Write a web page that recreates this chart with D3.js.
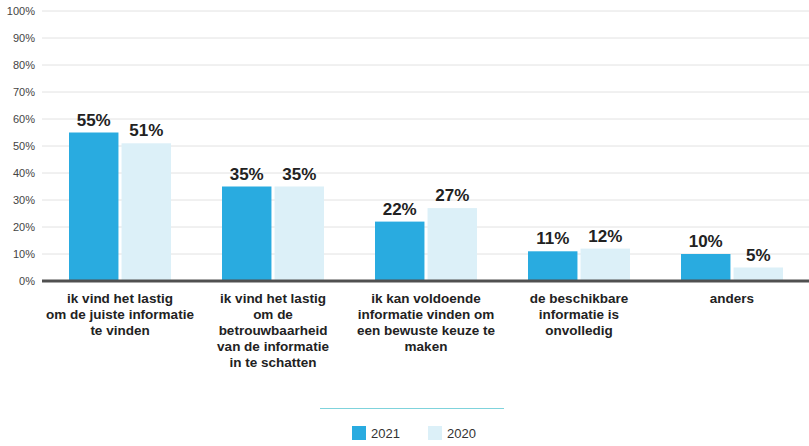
<!DOCTYPE html>
<html>
<head>
<meta charset="utf-8">
<script src="https://cdn.jsdelivr.net/npm/d3@7"></script>
<style>
  body { margin: 0; background: #fff; }
  svg { font-family: "Liberation Sans", Arial, sans-serif; }
</style>
</head>
<body>
<div id="chart"></div>
<script>
const categories = [
  ['ik vind het lastig', 'om de juiste informatie', 'te vinden'],
  ['ik vind het lastig', 'om de', 'betrouwbaarheid', 'van de informatie', 'in te schatten'],
  ['ik kan voldoende', 'informatie vinden om', 'een bewuste keuze te', 'maken'],
  ['de beschikbare', 'informatie is', 'onvolledig'],
  ['anders']
];
const seriesNames = ['2021', '2020'];
const values2021 = [55, 35, 22, 11, 10];
const values2020 = [51, 35, 27, 12, 5];
const yTicks = [0, 10, 20, 30, 40, 50, 60, 70, 80, 90, 100];

const colours = {'2021': '#29abe0', '2020': '#dcf0f8'};

const width = 809, height = 446;
const svg = d3.select('#chart').append('svg')
  .attr('width', width)
  .attr('height', height);

const x = d3.scaleBand()
  .domain(d3.range(categories.length))
  .range([43.5, 808.5]);

const inner = d3.scaleBand()
  .domain(seriesNames)
  .range([25.5, x.bandwidth() - 25.5])
  .paddingInner(6 / 102);

const y = d3.scaleLinear().domain([0, 100]).range([281, 11]);

// gridlines
svg.append('g')
  .selectAll('line')
  .data(yTicks.slice(1))
  .enter().append('line')
  .attr('x1', 42).attr('x2', width)
  .attr('y1', d => y(d)).attr('y2', d => y(d))
  .attr('stroke', '#e2e2e2')
  .attr('stroke-width', 1);

// y axis labels
svg.append('g')
  .selectAll('text')
  .data(yTicks)
  .enter().append('text')
  .attr('x', 35)
  .attr('y', d => y(d) + 4)
  .attr('text-anchor', 'end')
  .attr('font-size', 11)
  .attr('fill', '#444')
  .text(d => d + '%');

const rows = categories.map((c, i) => ({i, values: {'2021': values2021[i], '2020': values2020[i]}}));

const groups = svg.append('g')
  .selectAll('g')
  .data(rows)
  .enter().append('g')
  .attr('transform', d => `translate(${x(d.i)},0)`);

const bars = groups.selectAll('g.bar')
  .data(d => seriesNames.map(s => ({s, v: d.values[s]})))
  .enter().append('g')
  .attr('class', 'bar');

bars.append('rect')
  .attr('x', d => inner(d.s))
  .attr('width', inner.bandwidth())
  .attr('y', d => y(d.v))
  .attr('height', d => y(0) - y(d.v))
  .attr('fill', d => colours[d.s]);

bars.append('text')
  .attr('x', d => inner(d.s) + inner.bandwidth() / 2)
  .attr('y', d => y(d.v) - 7)
  .attr('text-anchor', 'middle')
  .attr('font-size', 17)
  .attr('font-weight', 'bold')
  .attr('fill', '#222')
  .text(d => d.v + '%');

// zero axis line
svg.append('line')
  .attr('x1', 42).attr('x2', width)
  .attr('y1', y(0)).attr('y2', y(0))
  .attr('stroke', '#505050')
  .attr('stroke-width', 3);

// category labels
const catLabels = svg.append('g')
  .selectAll('text')
  .data(categories)
  .enter().append('text')
  .attr('text-anchor', 'middle')
  .attr('font-size', 13.5)
  .attr('font-weight', 'bold')
  .attr('fill', '#222')
  .attr('transform', (d, i) => `translate(${x(i) + x.bandwidth() / 2},303)`);

catLabels.selectAll('tspan')
  .data(d => d)
  .enter().append('tspan')
  .attr('x', 0)
  .attr('y', (d, i) => i * 16)
  .text(d => d);

// legend
svg.append('line')
  .attr('x1', 320).attr('x2', 504)
  .attr('y1', 408.5).attr('y2', 408.5)
  .attr('stroke', '#7fd3dc')
  .attr('stroke-width', 1);

const legendX = [352, 428];
const legend = svg.append('g')
  .selectAll('g')
  .data(seriesNames)
  .enter().append('g')
  .attr('transform', (d, i) => `translate(${legendX[i]},426)`);

legend.append('rect')
  .attr('width', 14).attr('height', 14)
  .attr('fill', d => colours[d]);

legend.append('text')
  .attr('x', 19)
  .attr('y', 12)
  .attr('font-size', 13)
  .attr('fill', '#333')
  .text(d => d);
</script>
</body>
</html>
